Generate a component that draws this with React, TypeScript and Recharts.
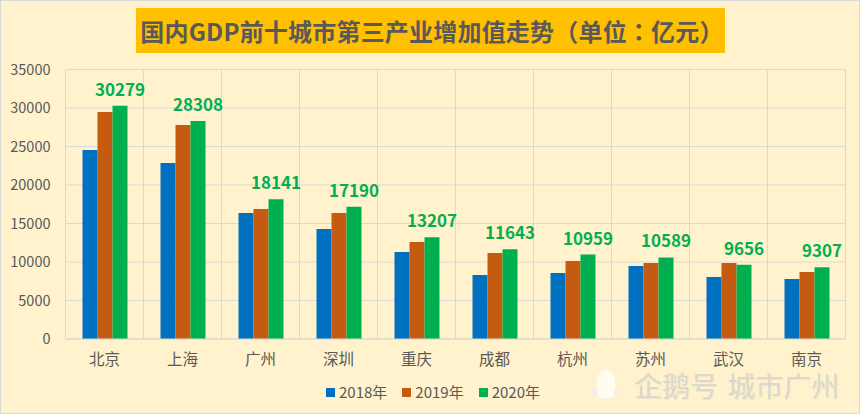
import React from "react";
import { Bar, BarChart, CartesianGrid, LabelList, Legend, XAxis, YAxis } from "recharts";

const cities = ["北京", "上海", "广州", "深圳", "重庆", "成都", "杭州", "苏州", "武汉", "南京"];
const values2018 = [24550, 22850, 16360, 14280, 11300, 8310, 8570, 9480, 8050, 7790];
const values2019 = [29480, 27790, 16880, 16360, 12600, 11170, 10130, 9870, 9870, 8700];
const values2020 = [30279, 28308, 18141, 17190, 13207, 11643, 10959, 10589, 9656, 9307];
const yTicks = [0, 5000, 10000, 15000, 20000, 25000, 30000, 35000];

const seriesNames = ["2018年", "2019年", "2020年"];
const seriesColors = ["#0070C0", "#C55A11", "#00B050"];

const titleText = "国内GDP前十城市第三产业增加值走势（单位：亿元）";

const FONT = '"Noto Sans CJK SC", "Noto Sans", sans-serif';
const GRID = "#D9D9D9";
const TEXT = "#595959";

const chartData = cities.map((city, i) => ({
  city,
  [seriesNames[0]]: values2018[i],
  [seriesNames[1]]: values2019[i],
  [seriesNames[2]]: values2020[i],
}));

// gridlines sit between the categories, not on the ticks
const categoryEdges = ({ offset }: any) =>
  Array.from({ length: cities.length + 1 }, (_, i) => offset.left + (i * offset.width) / cities.length);

const LegendRow = () => (
  <ul
    style={{
      display: "flex",
      justifyContent: "center",
      gap: 15,
      margin: 0,
      padding: "0 0 0 6px",
      height: 22,
      listStyle: "none",
      fontSize: 15,
      lineHeight: "22px",
      color: TEXT,
    }}
  >
    {seriesNames.map((name, i) => (
      <li key={name} style={{ display: "flex", alignItems: "center", gap: 4 }}>
        <span style={{ width: 9, height: 9, background: seriesColors[i] }} />
        {name}
      </li>
    ))}
  </ul>
);

const Watermark = () => (
  <div
    style={{
      position: "absolute",
      left: 590,
      top: 366,
      display: "flex",
      alignItems: "center",
      height: 36,
      color: "#DAD8CF",
      fontSize: 28,
      lineHeight: "28px",
      wordSpacing: 3,
      whiteSpace: "pre",
      textShadow: "1px 1px 1px #EFE6C8",
    }}
  >
    <svg width={32} height={34} style={{ marginRight: 11 }}>
      <ellipse cx={15} cy={13} rx={9} ry={11} fill="#FFFCF2" />
      <ellipse cx={15} cy={22} rx={11} ry={9} fill="#FFFCF2" />
      <ellipse cx={4} cy={24} rx={3} ry={5} fill="#F4F0E2" />
      <ellipse cx={26} cy={24} rx={3} ry={5} fill="#F4F0E2" />
    </svg>
    企鹅号 城市广州
  </div>
);

const App = () => {
  return (
    <div
      style={{
        position: "absolute",
        left: 0,
        top: 0,
        width: 860,
        height: 414,
        boxSizing: "border-box",
        border: `1px solid ${GRID}`,
        background: "#FFF2CC",
        fontFamily: FONT,
        overflow: "hidden",
      }}
    >
      <div
        style={{
          position: "absolute",
          left: 135,
          top: 7,
          width: 589,
          height: 45,
          boxSizing: "border-box",
          paddingLeft: 3,
          background: "#FFC000",
          color: TEXT,
          fontFamily: '"Noto Sans CJK TC", "Noto Sans CJK SC", sans-serif',
          fontSize: 24,
          fontWeight: 700,
          letterSpacing: 0.2,
          lineHeight: "45px",
          textAlign: "center",
          whiteSpace: "nowrap",
        }}
      >
        {titleText}
      </div>
      <div style={{ position: "absolute", left: -1, top: -1 }}>
        <BarChart
          width={860}
          height={414}
          data={chartData}
          barSize={15}
          barGap={0}
          margin={{ top: 69.5, right: 14.5, bottom: 23, left: 0 }}
        >
          <CartesianGrid stroke={GRID} strokeWidth={1} verticalCoordinatesGenerator={categoryEdges} />
          <XAxis
            dataKey="city"
            interval={0}
            axisLine={{ stroke: GRID }}
            tickLine={false}
            tickSize={0}
            tickMargin={15}
            tick={{ fill: TEXT, fontSize: 15.5, fontFamily: FONT }}
          />
          <YAxis
            width={65.5}
            domain={[0, 35000]}
            ticks={yTicks}
            interval={0}
            axisLine={false}
            tickLine={false}
            tickSize={0}
            tickMargin={15}
            tick={{ fill: TEXT, fontSize: 14.5, fontFamily: FONT }}
          />
          <Legend content={<LegendRow />} wrapperStyle={{ left: 0, width: 860, bottom: 11 }} />
          <Bar dataKey={seriesNames[0]} fill={seriesColors[0]} isAnimationActive={false} />
          <Bar dataKey={seriesNames[1]} fill={seriesColors[1]} isAnimationActive={false} />
          <Bar dataKey={seriesNames[2]} fill={seriesColors[2]} isAnimationActive={false}>
            <LabelList
              dataKey={seriesNames[2]}
              position="top"
              offset={10}
              fill={seriesColors[2]}
              fontSize={17}
              fontWeight={700}
              fontFamily={FONT}
            />
          </Bar>
        </BarChart>
      </div>
      <Watermark />
    </div>
  );
};

export default App;
